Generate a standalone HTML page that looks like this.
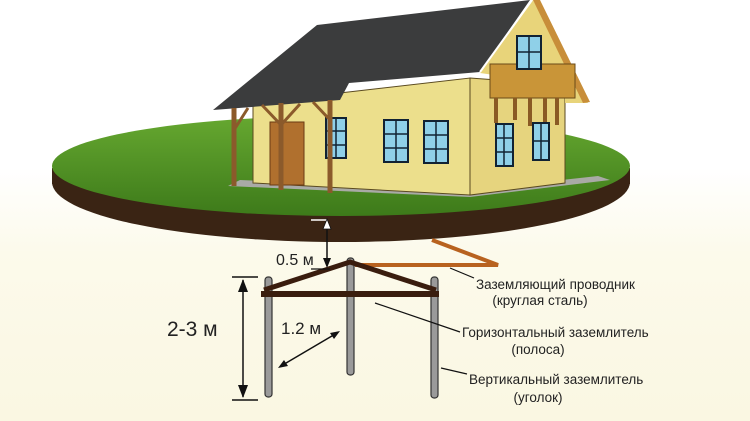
<!DOCTYPE html>
<html><head><meta charset="utf-8"><style>
html,body{margin:0;padding:0;background:#fff}
svg{display:block}
text{font-family:"Liberation Sans","DejaVu Sans",sans-serif;fill:#222}
</style></head><body>
<svg width="750" height="421" viewBox="0 0 750 421" xmlns="http://www.w3.org/2000/svg">
<defs>
<linearGradient id="bg" x1="0" y1="0" x2="0" y2="1">
<stop offset="0" stop-color="#ffffff"/><stop offset="0.4" stop-color="#ffffff"/><stop offset="0.6" stop-color="#fcfaeb"/><stop offset="1" stop-color="#faf7e2"/>
</linearGradient>
<linearGradient id="grass" x1="0" y1="0" x2="0" y2="1">
<stop offset="0" stop-color="#66a830"/><stop offset="1" stop-color="#3d7a1a"/>
</linearGradient>
</defs>
<rect width="750" height="421" fill="url(#bg)"/>
<!-- soil -->
<ellipse cx="341" cy="182" rx="289" ry="60" fill="#3a2414"/>
<rect x="52" y="168" width="578" height="16" fill="#3a2414"/>
<ellipse cx="341" cy="166" rx="289" ry="50" fill="url(#grass)"/>
<!-- slab -->
<polygon points="228,186 470,197 610,180 598,176 470,190 240,180" fill="#a9aaa6"/>
<!-- front wall -->
<polygon points="253,103 470,78 470,195 253,183" fill="#ecdf8c" stroke="#5a4a20" stroke-width="1"/>
<!-- right wall -->
<polygon points="470,78 565,85 565,183 470,195" fill="#e6d47e" stroke="#5a4a20" stroke-width="1"/>
<!-- gable -->
<polygon points="480,73 533,0 588,103 565,103 565,85" fill="#e8d47a"/>
<polygon points="533,0 540,0 590,102 583,103" fill="#c88e3a"/>
<!-- balcony -->
<rect x="490" y="64" width="85" height="34" fill="#c99538" stroke="#6a4a18"/>
<g stroke="#8a5a24" stroke-width="4">
<line x1="496" y1="98" x2="496" y2="123"/><line x1="515" y1="98" x2="515" y2="120"/><line x1="530" y1="98" x2="530" y2="126"/><line x1="545" y1="98" x2="545" y2="128"/><line x1="557" y1="98" x2="557" y2="125"/>
</g>
<!-- roof -->
<polygon points="213,110 317,25 530,0 480,72 349,83 340,100" fill="#3b3c3d"/>
<line x1="480" y1="72" x2="532" y2="0" stroke="#fff" stroke-width="2"/>
<!-- windows -->
<g fill="#8fd0e8" stroke="#123" stroke-width="2">
<rect x="326" y="118" width="20" height="40"/>
<rect x="384" y="120" width="24" height="42"/>
<rect x="424" y="121" width="24" height="42"/>
<rect x="496" y="124" width="17" height="42"/>
<rect x="533" y="123" width="16" height="37"/>
<rect x="517" y="36" width="24" height="33"/>
</g>
<g stroke="#123" stroke-width="1.5">
<line x1="336" y1="118" x2="336" y2="158"/><line x1="326" y1="131" x2="346" y2="131"/><line x1="326" y1="145" x2="346" y2="145"/>
<line x1="396" y1="120" x2="396" y2="162"/><line x1="384" y1="134" x2="408" y2="134"/><line x1="384" y1="148" x2="408" y2="148"/>
<line x1="436" y1="121" x2="436" y2="163"/><line x1="424" y1="135" x2="448" y2="135"/><line x1="424" y1="149" x2="448" y2="149"/>
<line x1="504" y1="124" x2="504" y2="166"/><line x1="496" y1="138" x2="513" y2="138"/><line x1="496" y1="152" x2="513" y2="152"/>
<line x1="541" y1="123" x2="541" y2="160"/><line x1="533" y1="141" x2="549" y2="141"/>
<line x1="529" y1="36" x2="529" y2="69"/><line x1="517" y1="52" x2="541" y2="52"/>
</g>
<!-- door -->
<rect x="270" y="122" width="34" height="63" fill="#b0702e" stroke="#6a3a14"/>
<!-- posts -->
<g stroke="#8b5a2b" stroke-width="5">
<line x1="234" y1="108" x2="234" y2="186"/><line x1="281" y1="103" x2="281" y2="190"/><line x1="330" y1="100" x2="330" y2="193"/>
</g>
<g stroke="#8b5a2b" stroke-width="3">
<line x1="234" y1="130" x2="248" y2="108"/><line x1="281" y1="125" x2="262" y2="105"/><line x1="281" y1="125" x2="300" y2="104"/><line x1="330" y1="120" x2="313" y2="102"/>
</g>
<!-- underground: conductor -->
<polyline points="432,240 498,265 355,265" fill="none" stroke="#b8621f" stroke-width="4"/>
<!-- rods -->
<g fill="#9a9a9a" stroke="#333" stroke-width="1.2">
<rect x="265" y="277" width="7" height="120" rx="3"/>
<rect x="347" y="258" width="7" height="117" rx="3"/>
<rect x="431" y="277" width="7" height="121" rx="3"/>
</g>
<!-- strips -->
<polyline points="264,290 350,262 436,290" fill="none" stroke="#3a1d0e" stroke-width="5"/>
<line x1="261" y1="294" x2="439" y2="294" stroke="#3a1d0e" stroke-width="6"/>
<!-- 0.5 m -->
<line x1="311" y1="220" x2="327" y2="220" stroke="#fff" stroke-width="1.5"/>
<line x1="327" y1="222" x2="327" y2="266" stroke="#111" stroke-width="1.5"/>
<polygon points="327,219 323,229 331,229" fill="#fff" stroke="#111" stroke-width="0.8"/>
<polygon points="327,268 323,258 331,258" fill="#111"/>
<line x1="311" y1="269" x2="330" y2="269" stroke="#111" stroke-width="1.2"/>
<text x="276" y="265" font-size="16">0.5 м</text>
<!-- 2-3 m -->
<line x1="232" y1="277" x2="258" y2="277" stroke="#111" stroke-width="1.5"/>
<line x1="232" y1="400" x2="258" y2="400" stroke="#111" stroke-width="1.5"/>
<line x1="243" y1="280" x2="243" y2="397" stroke="#111" stroke-width="1.5"/>
<polygon points="243,279 238,292 248,292" fill="#111"/>
<polygon points="243,398 238,385 248,385" fill="#111"/>
<text x="167" y="336" font-size="21">2-3 м</text>
<!-- 1.2 m -->
<text x="281" y="334" font-size="17">1.2 м</text>
<line x1="281" y1="366" x2="337" y2="333" stroke="#111" stroke-width="1.5"/>
<polygon points="278,368 284,360 288,366" fill="#111"/>
<polygon points="340,331 330,333 334,339" fill="#111"/>
<!-- leaders -->
<g stroke="#111" stroke-width="1.2">
<line x1="450" y1="268" x2="474" y2="278"/>
<line x1="375" y1="303" x2="460" y2="332"/>
<line x1="441" y1="368" x2="467" y2="374"/>
</g>
<g font-size="13.5">
<text x="476" y="289">Заземляющий проводник</text>
<text x="540" y="305" text-anchor="middle">(круглая сталь)</text>
<text x="462" y="337">Горизонтальный заземлитель</text>
<text x="538" y="354" text-anchor="middle">(полоса)</text>
<text x="469" y="384">Вертикальный заземлитель</text>
<text x="538" y="402" text-anchor="middle">(уголок)</text>
</g>
</svg>
</body></html>
